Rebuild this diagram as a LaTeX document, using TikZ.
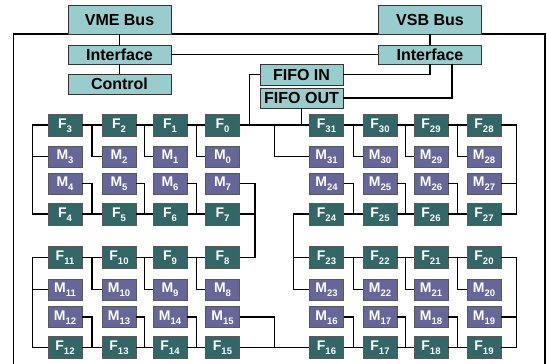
\documentclass[tikz,border=0pt]{standalone}
\usepackage{fontspec}
\setmainfont{Liberation Sans}
\usetikzlibrary{calc}
\definecolor{lcol}{HTML}{99CCCC}
\definecolor{fcol}{HTML}{336666}
\definecolor{mcol}{HTML}{666699}
\newcommand{\lbl}[2]{#1\raisebox{-4pt}{\fontsize{9.5}{9.5}\selectfont #2}}
\tikzset{
  lnode/.style={draw=black!80, line width=0.8pt, fill=lcol, minimum width=103pt, inner sep=0pt,
    font=\fontsize{16}{16}\selectfont\bfseries, text height=11.5pt, text depth=0pt},
  fnode/.style={draw=black!65, line width=0.8pt, fill=fcol, minimum width=34pt, minimum height=22pt,
    inner sep=0pt, text=white, font=\fontsize{14}{14}\selectfont\bfseries, text height=10pt, text depth=3.5pt},
  mnode/.style={fnode, fill=mcol, minimum height=21pt},
  conn/.style={line width=1.2pt, black}
}
\begin{document}
\begin{tikzpicture}[x=1pt,y=-1pt]
\fill[white] (0,0) rectangle (547,364);
\useasboundingbox (0,0) rectangle (547,364);
% frame
\draw[conn] (13.5,366) |- (545,34) -- (545,366);
% top boxes
\node[lnode, minimum height=29pt] (VME) at (119.5,19.5) {VME Bus};
\node[lnode, minimum height=29pt] (VSB) at (430,19.5) {VSB Bus};
\node[lnode, minimum height=19pt] (IfL) at (119.5,54.5) {Interface};
\node[lnode, minimum height=19pt] (IfR) at (430,54.5) {Interface};
\node[lnode, minimum height=20pt] (Ctrl) at (119.5,84) {Control};
\node[lnode, minimum height=21pt, minimum width=83pt] (FIN) at (301.5,74.5) {FIFO IN};
\node[lnode, minimum height=20pt, minimum width=83pt] (FOUT) at (301.5,98) {FIFO OUT};
% F nodes
\foreach \n/\x/\y in {3/65/125, 2/119/125, 1/170/125, 0/222.5/125,
  4/65/214, 5/119/214, 6/170/214, 7/222.5/214,
  11/65/257.5, 10/119/257.5, 9/170/257.5, 8/222.5/257.5,
  12/65/347.5, 13/119/347.5, 14/170/347.5, 15/222.5/347.5,
  31/326.5/125, 30/380/125, 29/431/125, 28/484/125,
  24/326.5/214, 25/380/214, 26/431/214, 27/484/214,
  23/326.5/257.5, 22/380/257.5, 21/431/257.5, 20/484/257.5,
  16/326.5/347.5, 17/380/347.5, 18/431/347.5, 19/484/347.5}
  \node[fnode] (F\n) at (\x,\y) {\lbl{F}{\n}};
% M nodes
\foreach \n/\x/\y in {3/65/156.5, 2/119/156.5, 1/170/156.5, 0/222.5/156.5,
  4/65/183.5, 5/119/183.5, 6/170/183.5, 7/222.5/183.5,
  11/65/289.5, 10/119/289.5, 9/170/289.5, 8/222.5/289.5,
  12/65/317, 13/119/317, 14/170/317, 15/222.5/317,
  31/326.5/156.5, 30/380/156.5, 29/431/156.5, 28/484/156.5,
  24/326.5/183.5, 25/380/183.5, 26/431/183.5, 27/484/183.5,
  23/326.5/289.5, 22/380/289.5, 21/431/289.5, 20/484/289.5,
  16/326.5/317, 17/380/317, 18/431/317, 19/484/317}
  \node[mnode] (M\n) at (\x,\y) {\lbl{M}{\n}};
% bus connections
\draw[conn] (VME.south) -- (IfL.north);
\draw[conn] (IfL.south) -- (Ctrl.north);
\draw[conn] (IfL.east) -- (IfR.west);
\draw[conn] (VSB.south) -- (IfR.north);
\draw[conn] (FIN.east) -| (IfR.south);
\draw[conn] (FOUT.east) -| ([xshift=22pt]IfR.south);
\draw[conn] (FIN.west) -- ++(-10,0) coordinate (fi) -- (fi |- F0.east);
\draw[conn] (FOUT.south) -- (FOUT.south |- F0.east);
% ring: leftward pairs (top rows of groups)
\foreach \i/\j in {0/1, 1/2, 2/3, 8/9, 9/10, 10/11, 20/21, 21/22, 22/23, 28/29, 29/30, 30/31}{
  \draw[conn] (F\i.west) -- (F\j.east);
  \draw[conn] ($(F\i.west)!.5!(F\j.east)$) |- (M\i.west);
}
% ring: rightward pairs (bottom rows of groups)
\foreach \i/\j in {4/5, 5/6, 6/7, 12/13, 13/14, 14/15, 15/16, 16/17, 17/18, 18/19, 24/25, 25/26, 26/27}{
  \draw[conn] (F\i.east) -- (F\j.west);
  \draw[conn] (M\i.east) -| ($(F\i.east)!.5!(F\j.west)$);
}
% F31 - F0 with M31
\draw[conn] (F31.west) -- (F0.east);
\draw[conn] ($(F31.west)!.5!(F0.east)$) |- (M31.west);
% left rails
\draw[conn] (F3.west) -- ++(-15,0) coordinate (r3) |- (F4.west);
\draw[conn] (r3) |- (M3.west);
\draw[conn] (F11.west) -- ++(-15,0) coordinate (r11) |- (F12.west);
\draw[conn] (r11) |- (M11.west);
% F7 - F8
\draw[conn] (F7.east) -- ++(15,0) coordinate (r7) |- (F8.east);
\draw[conn] (M7.east) -| (r7);
% F19 - F20
\draw[conn] (F20.east) -- ++(15,0) |- (F19.east);
\draw[conn] (M19.east) -- ++(15,0);
% F23 - F24
\draw[conn] (F24.west) -- ++(-16,0) coordinate (r23) |- (M23.west);
\draw[conn] (r23) |- (F23.west);
% F27 - F28
\draw[conn] (F28.east) -- ++(15,0) |- (F27.east);
\draw[conn] (M27.east) -- ++(15,0);
\end{tikzpicture}
\end{document}
